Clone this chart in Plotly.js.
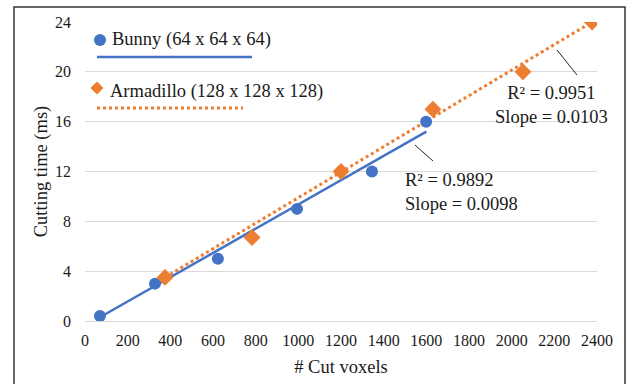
<!DOCTYPE html>
<html><head><meta charset="utf-8">
<script src="https://cdn.plot.ly/plotly-3.0.1.min.js"></script>
<style>html,body{margin:0;padding:0;background:#fff;}#chart{width:627px;height:384px;}</style>
</head><body><div id="chart"></div>
<script>
// Data
const bunnyX = [70, 328, 623, 994, 1345, 1599];
const bunnyY = [0.4, 3.0, 5.0, 9.0, 12.0, 16.0];
const armX = [375, 783, 1200, 1631, 2053, 2377];
const armY = [3.5, 6.7, 12.0, 17.0, 20.0, 24.0];
// trendline endpoints
const bunnyTrendX = [70, 1600];
const bunnyTrendY = [0.3, 15.2];
const armTrendX = [375, 2377];
const armTrendY = [3.5, 24.0];
const xTicks = [0,200,400,600,800,1000,1200,1400,1600,1800,2000,2200,2400];
const yTicks = [0,4,8,12,16,20,24];
const seriesNames = ['Bunny (64 x 64 x 64)', 'Armadillo (128 x 128 x 128)'];
const fitLabels = ['R² = 0.9892<br>Slope = 0.0098', 'R² = 0.9951<br>Slope = 0.0103'];

const BLUE = '#4472C4', ORANGE = '#ED7D31';
const FONT = 'Liberation Serif';
const TXT = '#1a1a1a';
const L = 85, R = 597, T = 22, B = 321;
const px = x => (x - L) / (R - L);
const py = y => (B - y) / (B - T);

const traces = [
  {x: bunnyTrendX, y: bunnyTrendY, mode: 'lines', line: {color: BLUE, width: 2.5}, hoverinfo: 'skip'},
  {x: armTrendX, y: armTrendY, mode: 'lines', line: {color: ORANGE, width: 3, dash: 'dot'}, hoverinfo: 'skip'},
  {x: bunnyX, y: bunnyY, mode: 'markers', name: seriesNames[0],
   marker: {symbol: 'circle', size: 12, color: BLUE, line: {width: 0}}},
  {x: armX, y: armY, mode: 'markers', name: seriesNames[1],
   marker: {symbol: 'diamond', size: 13, color: ORANGE, line: {width: 0}}}
];

function diamond(cx, cy, r) {
  return `M ${px(cx)} ${py(cy - r)} L ${px(cx + r)} ${py(cy)} L ${px(cx)} ${py(cy + r)} L ${px(cx - r)} ${py(cy)} Z`;
}

const layout = {
  width: 627, height: 384,
  margin: {l: L, r: 627 - R, t: T, b: 384 - B, pad: 0},
  paper_bgcolor: '#fff', plot_bgcolor: '#fff',
  showlegend: false,
  font: {family: FONT, size: 16, color: TXT},
  xaxis: {
    range: [0, 2400], tickvals: xTicks, showgrid: false, zeroline: false,
    showline: false, ticks: '', tickfont: {size: 16, family: FONT, color: TXT},
    ticklabelstandoff: 8,
    title: {text: '# Cut voxels', font: {size: 18.5, family: FONT, color: TXT}, standoff: 12}
  },
  yaxis: {
    range: [0, 24], tickvals: yTicks, showgrid: true, gridcolor: '#d9d9d9', gridwidth: 1,
    zeroline: true, zerolinecolor: '#d9d9d9', zerolinewidth: 1, showline: false, ticks: '',
    tickfont: {size: 16, family: FONT, color: TXT}, ticklabelstandoff: 13,
    title: {text: 'Cutting time (ms)', font: {size: 18.5, family: FONT, color: TXT}, standoff: 2}
  },
  shapes: [
    {type: 'rect', xref: 'paper', yref: 'paper', x0: px(14), x1: px(625), y0: py(395), y1: py(7),
     line: {color: '#333', width: 1.5}, fillcolor: 'rgba(0,0,0,0)'},
    // legend samples
    {type: 'circle', xref: 'paper', yref: 'paper', x0: px(94), x1: px(106), y0: py(46), y1: py(34),
     fillcolor: BLUE, line: {width: 0}},
    {type: 'line', xref: 'paper', yref: 'paper', x0: px(97), x1: px(252), y0: py(57), y1: py(57),
     line: {color: BLUE, width: 2.5}},
    {type: 'path', xref: 'paper', yref: 'paper', path: diamond(97, 88, 6.5), fillcolor: ORANGE, line: {width: 0}},
    {type: 'line', xref: 'paper', yref: 'paper', x0: px(97), x1: px(243), y0: py(108), y1: py(108),
     line: {color: ORANGE, width: 3, dash: 'dot'}},
    // leader lines
    {type: 'line', xref: 'paper', yref: 'paper', x0: px(557), x1: px(577), y0: py(50), y1: py(75),
     line: {color: '#222', width: 1}},
    {type: 'line', xref: 'paper', yref: 'paper', x0: px(415), x1: px(433), y0: py(145), y1: py(161),
     line: {color: '#222', width: 1}}
  ],
  annotations: [
    {xref: 'paper', yref: 'paper', x: px(110), y: py(40), xanchor: 'left', yanchor: 'middle',
     text: seriesNames[0], showarrow: false, font: {size: 18.5, family: FONT, color: TXT}},
    {xref: 'paper', yref: 'paper', x: px(108), y: py(92), xanchor: 'left', yanchor: 'middle',
     text: seriesNames[1], showarrow: false, font: {size: 18.5, family: FONT, color: TXT}},
    {xref: 'paper', yref: 'paper', x: px(551), y: py(105), xanchor: 'center', yanchor: 'middle', align: 'center',
     text: fitLabels[1], showarrow: false, font: {size: 18.5, family: FONT, color: TXT}},
    {xref: 'paper', yref: 'paper', x: px(403), y: py(192), xanchor: 'left', yanchor: 'middle', align: 'left',
     text: fitLabels[0], showarrow: false, font: {size: 18.5, family: FONT, color: TXT}}
  ]
};

Plotly.newPlot('chart', traces, layout, {displayModeBar: false, staticPlot: true});
</script></body></html>
